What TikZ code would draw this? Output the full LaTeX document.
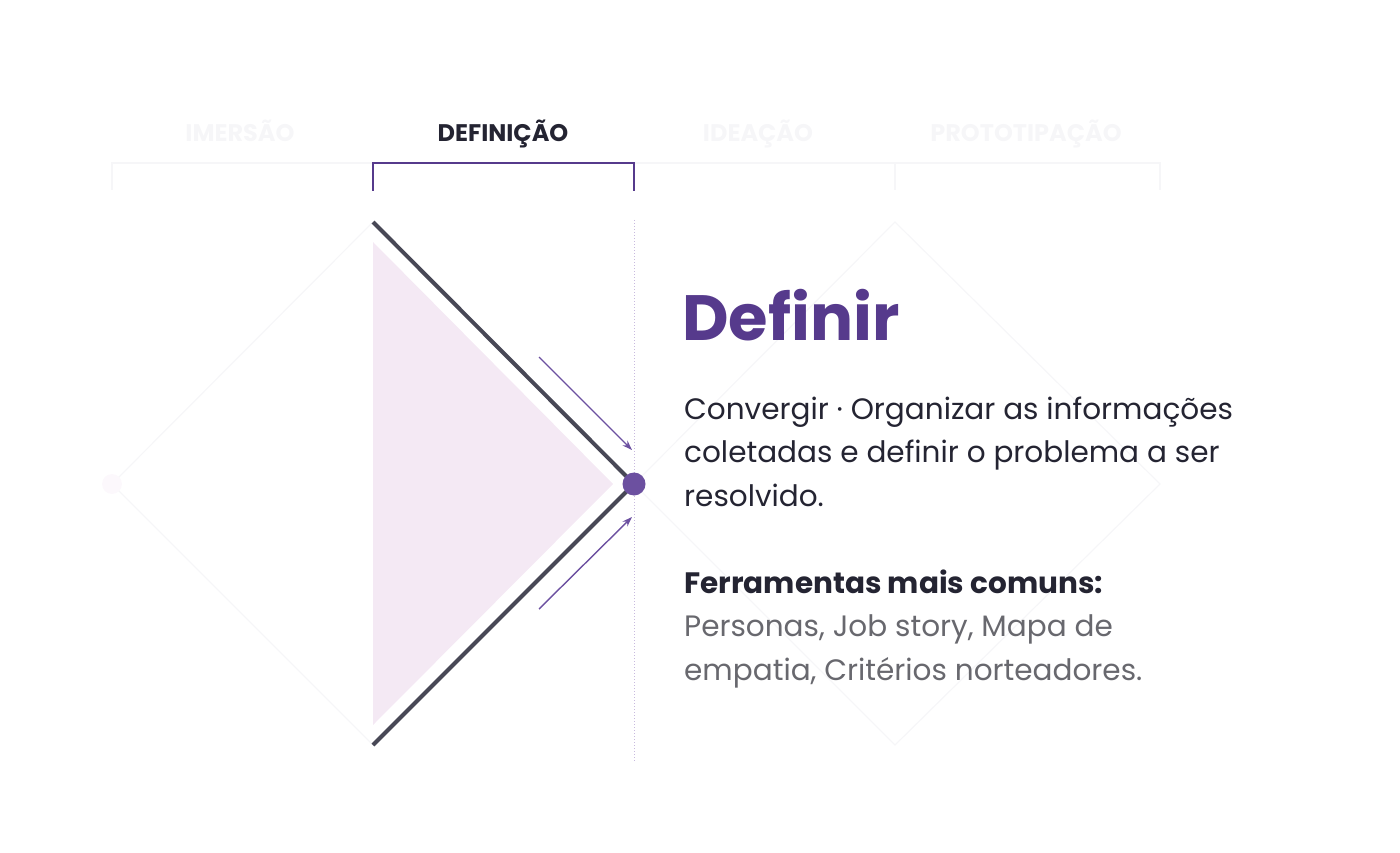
\documentclass[tikz,border=0pt]{standalone}
\usepackage{fontspec}
\setmainfont{Poppins}
\usetikzlibrary{arrows.meta}
\definecolor{dtPurple}{RGB}{86,58,140}
\definecolor{dtDot}{RGB}{108,80,160}
\definecolor{dtInk}{RGB}{72,72,86}
\definecolor{dtPink}{RGB}{244,233,244}
\definecolor{dtLine}{RGB}{200,186,222}
\definecolor{dtText}{RGB}{36,36,50}
\definecolor{dtGray}{RGB}{104,104,110}
\definecolor{dtGhost}{RGB}{246,246,248}
\tikzset{
    phase/.style={
        font=\fontsize{24}{26}\selectfont\bfseries,
        inner sep=0pt,
        anchor=base
    },
    ghost/.style={
        draw=dtGhost,
        line width=1.2pt
    },
    flow/.style={
        -{Stealth[length=10pt,width=7pt]},
        line width=1.4pt,
        color=dtDot
    },
    para/.style={
        font=\fontsize{29.5}{43.5}\selectfont,
        align=left,
        inner sep=0pt,
        anchor=base west
    }
}

\begin{document}
\begin{tikzpicture}[x=1pt, y=-1pt]
    \useasboundingbox (0,0) rectangle (1400,853);

    % Phase labels
    \node[phase, text=dtGhost] (imersao) at (240,142) {IMERSÃO};
    \node[phase, text=dtText] (definicao) at (503,142) {DEFINIÇÃO};
    \node[phase, text=dtGhost] (ideacao) at (758,142) {IDEAÇÃO};
    \node[phase, text=dtGhost] (prototipacao) at (1026,142) {PROTOTIPAÇÃO};

    % Faint brackets
    \draw[ghost] (112,190) -- (112,163) -- (1160,163) -- (1160,190);
    \draw[ghost] (895,163) -- (895,190);

    % Faint diamonds (other phases)
    \draw[ghost] (373,222) -- (112,484) -- (373,745);
    \draw[ghost] (634,484) -- (895,222) -- (1160,484) -- (895,745) -- cycle;
    \fill[dtPink!30] (112,484) circle (10);

    % Active bracket
    \draw[dtPurple, line width=2.5pt] (373,191) -- (373,163) -- (634,163) -- (634,191);

    % Converging area
    \fill[dtPink] (373,242) -- (613,484) -- (373,725) -- cycle;
    \draw[dtLine, line width=1pt, dotted] (634,220) -- (634,762);
    \draw[dtInk, line width=4pt] (373,222) -- (634,484) -- (373,745);

    % Convergence point and arrows
    \node[circle, fill=dtDot, minimum size=23pt, inner sep=0pt] (ponto) at (634,484) {};
    \coordinate (a1) at (539,357);
    \coordinate (a2) at (632,450);
    \coordinate (b1) at (539,609);
    \coordinate (b2) at (632,517);
    \draw[flow] (a1) -- (a2);
    \draw[flow] (b1) -- (b2);

    % Description (base = last line)
    \node[font=\fontsize{64}{64}\selectfont\bfseries, text=dtPurple, inner sep=0pt, anchor=base west] (titulo) at (682,340) {Definir};
    \node[para, text=dtText] (texto) at (684,506) {Convergir · Organizar as informações\\coletadas e definir o problema a ser\\resolvido.};
    \node[para, text=dtText, font=\fontsize{29.5}{43.5}\selectfont\bfseries] (ferramentas) at (684,593) {Ferramentas mais comuns:};
    \node[para, text=dtGray] (lista) at (684,680) {Personas, Job story, Mapa de\\empatia, Critérios norteadores.};

\end{tikzpicture}
\end{document}
